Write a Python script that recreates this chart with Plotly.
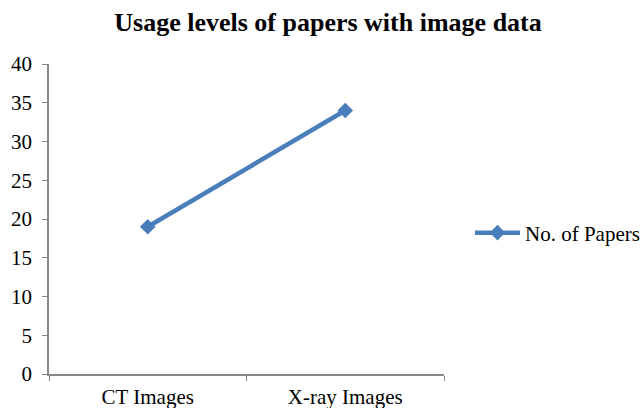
import plotly.graph_objects as go

# Data
categories = ["CT Images", "X-ray Images"]
papers = [19, 34]
series_name = "No. of Papers"
y_ticks = [0, 5, 10, 15, 20, 25, 30, 35, 40]

LINE_COLOR = "#4A7EBB"
AXIS_COLOR = "#898989"
FONT = "Liberation Serif, Times New Roman, serif"

fig = go.Figure()
fig.add_trace(go.Scatter(
    x=categories,
    y=papers,
    mode="lines+markers",
    name=series_name,
    line=dict(color=LINE_COLOR, width=4.5),
    marker=dict(symbol="diamond", size=12, color=LINE_COLOR),
))

fig.update_layout(
    width=644,
    height=408,
    margin=dict(l=49, r=200, t=64, b=34),
    paper_bgcolor="white",
    plot_bgcolor="white",
    font=dict(family=FONT, size=21, color="black"),
    title=dict(
        text="<b>Usage levels of papers with image data</b>",
        x=328 / 644,
        xanchor="center",
        y=1 - 22 / 408,
        yanchor="middle",
        font=dict(family=FONT, size=26, color="black"),
    ),
    showlegend=True,
    legend=dict(
        xref="container",
        yref="container",
        x=470 / 644,
        y=1 - 233 / 408,
        xanchor="left",
        yanchor="middle",
        font=dict(family=FONT, size=21, color="black"),
        bgcolor="rgba(0,0,0,0)",
        itemwidth=45,
    ),
    xaxis=dict(
        type="category",
        range=[-0.5, 1.5],
        automargin=False,
        showgrid=False,
        showline=True,
        linecolor=AXIS_COLOR,
        linewidth=1.5,
        ticks="outside",
        tickson="boundaries",
        ticklen=5,
        tickcolor=AXIS_COLOR,
        tickfont=dict(family=FONT, size=21, color="black"),
        ticklabelstandoff=3,
        zeroline=False,
    ),
    yaxis=dict(
        range=[0, 40],
        tickvals=y_ticks,
        automargin=False,
        showgrid=False,
        showline=True,
        linecolor=AXIS_COLOR,
        linewidth=1.5,
        ticks="outside",
        ticklen=5,
        tickcolor=AXIS_COLOR,
        tickfont=dict(family=FONT, size=21, color="black"),
        ticklabelstandoff=6,
        zeroline=False,
    ),
)

fig.write_html("out.html")
